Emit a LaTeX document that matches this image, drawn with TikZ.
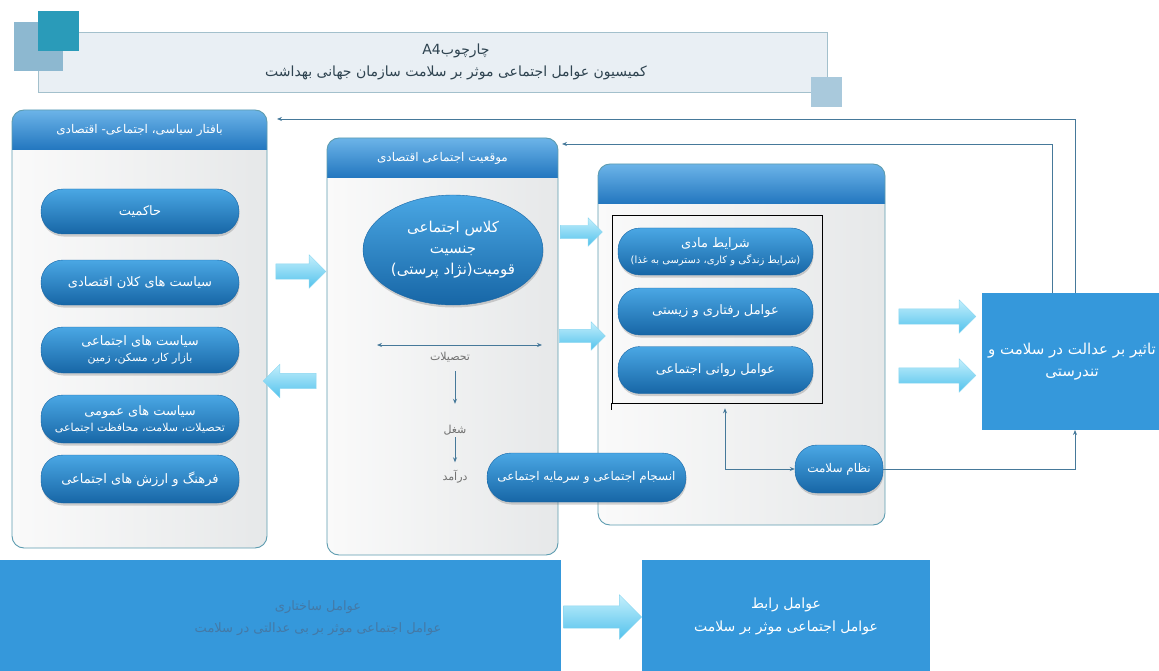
\documentclass[tikz,border=0pt]{standalone}
\usepackage{fontspec}
\newfontfamily\arabicfont[Script=Arabic]{DejaVu Sans}
\TeXXeTstate=1
\usetikzlibrary{shapes.misc,shapes.arrows,shapes.geometric,shadows,arrows.meta}
\newcommand{\fatext}[1]{\beginR#1\endR}
\newcommand{\subline}{\fontsize{11}{13}\selectfont}
\definecolor{panelline}{HTML}{5D9CB0}
\definecolor{bodyleft}{HTML}{FAFAFA}
\definecolor{bodyright}{HTML}{E6E8E9}
\definecolor{headtop}{HTML}{6CB4E8}
\definecolor{headbot}{HTML}{2276BF}
\definecolor{pilltop}{HTML}{4AA7E4}
\definecolor{pillbot}{HTML}{1766A6}
\definecolor{arrowtop}{HTML}{C4EFFC}
\definecolor{arrowbot}{HTML}{52C2EC}
\definecolor{arrowline}{HTML}{8AD6F0}
\definecolor{boxblue}{HTML}{3598DB}
\definecolor{linkcol}{HTML}{46799A}
\definecolor{titlefill}{HTML}{E9EFF4}
\definecolor{titleline}{HTML}{A3C0CC}
\definecolor{sqdark}{HTML}{2A9BB9}
\definecolor{sqlight}{HTML}{8DB8D0}
\definecolor{sqsmall}{HTML}{A9C9DC}
\definecolor{dimtext}{HTML}{4479A6}
\definecolor{graytext}{HTML}{707070}
\definecolor{titletext}{HTML}{2E4350}

\begin{document}
\begin{tikzpicture}[x=1pt,y=-1pt,
    panel_body/.style={draw=none,outer sep=0pt,rounded corners=12pt,left color=bodyleft,right color=bodyright},
    panel_edge/.style={draw=panelline,line width=0.9pt,rounded corners=12pt},
    panel_head/.style={top color=headtop,bottom color=headbot},
    head_text/.style={text=white,font=\arabicfont\fontsize{12}{14}\selectfont},
    pill_node/.style={rectangle,rounded corners=22pt,draw=pillbot,line width=0.4pt,top color=pilltop,bottom color=pillbot,text=white,align=center,inner sep=1pt,drop shadow={opacity=0.35,shadow xshift=0.5pt,shadow yshift=-2.5pt},font=\arabicfont\fontsize{13}{16}\selectfont},
    class_node/.style={ellipse,draw=pillbot,line width=0.4pt,top color=pilltop,bottom color=pillbot,text=white,align=center,inner sep=0pt,drop shadow={opacity=0.35,shadow xshift=0.5pt,shadow yshift=-2.5pt},font=\arabicfont\fontsize{15}{21}\selectfont},
    step_text/.style={text=graytext,inner sep=1pt,font=\arabicfont\fontsize{11}{13}\selectfont},
    frame_box/.style={draw=black,line width=0.6pt,minimum width=210pt,minimum height=188pt},
    block_arrow/.style={single arrow,single arrow head extend=9pt,single arrow head indent=0pt,inner xsep=0pt,inner ysep=7.5pt,top color=arrowtop,bottom color=arrowbot,draw=arrowline,line width=0.4pt},
    blue_box/.style={fill=boxblue,align=center,inner sep=0pt,outer sep=0pt},
    title_box/.style={fill=titlefill,draw=titleline,line width=0.6pt},
    title_text/.style={text=titletext,align=center,font=\arabicfont\fontsize{14}{22}\selectfont},
    link_line/.style={draw=linkcol,line width=0.7pt},
    link_tip/.style={-{Stealth[length=5pt,width=4pt]}},
    both_tips/.style={{Stealth[length=5pt,width=4pt]}-{Stealth[length=5pt,width=4pt]}}]
  \useasboundingbox (0,0) rectangle (1159,671);
\node[title_box,minimum width=789pt,minimum height=60pt] (31) at (432.50,62.00) {};
  \fill[sqlight] (14,22) rectangle (63,71);
  \fill[sqdark] (38,11) rectangle (79,51);
  \fill[sqsmall] (811,77) rectangle (842,107);
\node[title_text] (34) at (456.00,62.00) {\fatext{چارچوب\beginL A4\endL}\\\fatext{کمیسیون عوامل اجتماعی موثر بر سلامت سازمان جهانی بهداشت}};
\node[panel_body,minimum width=255pt,minimum height=438pt] (0) at (139.50,329.00) {};
  \begin{scope}
  \clip[rounded corners=12pt] (0.north west) rectangle (0.south east);
  \shade[panel_head] (0.north west) rectangle ([yshift=-40pt]0.north east);
  \end{scope}
  \draw[panel_edge] (0.north west) rectangle (0.south east);
\node[panel_body,minimum width=231pt,minimum height=417pt] (1) at (442.50,346.50) {};
  \begin{scope}
  \clip[rounded corners=12pt] (1.north west) rectangle (1.south east);
  \shade[panel_head] (1.north west) rectangle ([yshift=-40pt]1.north east);
  \end{scope}
  \draw[panel_edge] (1.north west) rectangle (1.south east);
\node[panel_body,minimum width=287pt,minimum height=361pt] (2) at (741.50,344.50) {};
  \begin{scope}
  \clip[rounded corners=12pt] (2.north west) rectangle (2.south east);
  \shade[panel_head] (2.north west) rectangle ([yshift=-40pt]2.north east);
  \end{scope}
  \draw[panel_edge] (2.north west) rectangle (2.south east);
\node[head_text] (3) at (139.50,130.00) {\fatext{بافتار سیاسی، اجتماعی- اقتصادی}};
\node[head_text] (4) at (442.50,158.00) {\fatext{موقعیت اجتماعی اقتصادی}};
\node[pill_node,minimum width=198pt,minimum height=45pt] (5) at (140.00,211.50) {\fatext{حاکمیت}};
\node[pill_node,minimum width=198pt,minimum height=45pt] (6) at (140.00,282.50) {\fatext{سیاست های کلان اقتصادی}};
\node[pill_node,minimum width=198pt,minimum height=46pt] (7) at (140.00,350.00) {\fatext{سیاست های اجتماعی}\\\subline\fatext{بازار کار، مسکن، زمین}};
\node[pill_node,minimum width=198pt,minimum height=48pt] (8) at (140.00,419.00) {\fatext{سیاست های عمومی}\\\subline\fatext{تحصیلات، سلامت، محافظت اجتماعی}};
\node[pill_node,minimum width=198pt,minimum height=48pt] (9) at (140.00,479.00) {\fatext{فرهنگ و ارزش های اجتماعی}};
\node[class_node,minimum width=180pt,minimum height=110pt] (10) at (453.00,250.00) {\fatext{کلاس اجتماعی}\\\fatext{جنسیت}\\\fatext{قومیت(نژاد پرستی)}};
\coordinate (35) at (377.00,345.00);
\coordinate (36) at (542.00,345.00);
\node[step_text] (11) at (450.00,357.00) {\fatext{تحصیلات}};
\node[step_text] (12) at (455.00,430.00) {\fatext{شغل}};
\node[step_text] (13) at (455.00,477.00) {\fatext{درآمد}};
  \draw[link_line,both_tips] (35) -- (36);
  \draw[link_line,link_tip] ([xshift=5pt,yshift=-8pt]11.south) -- ([yshift=20pt]12.north);
  \draw[link_line,link_tip] ([yshift=-1pt]12.south) -- ([yshift=7pt]13.north);
\node[frame_box] (15) at (717.00,309.00) {};
  \draw[black,line width=0.6pt] (15.south west) -- ([yshift=-7pt]15.south west);
\node[pill_node,minimum width=195pt,minimum height=47pt] (16) at (715.50,251.50) {\fatext{شرایط مادی}\\\fontsize{10}{12}\selectfont\fatext{(شرایط زندگی و کاری، دسترسی به غذا)}};
\node[pill_node,minimum width=195pt,minimum height=47pt] (17) at (715.50,311.50) {\fatext{عوامل رفتاری و زیستی}};
\node[pill_node,minimum width=195pt,minimum height=47pt] (18) at (715.50,370.00) {\fatext{عوامل روانی اجتماعی}};
\node[pill_node,minimum width=199pt,minimum height=49pt,rounded corners=24pt,font=\arabicfont\fontsize{12}{14}\selectfont] (14) at (586.50,477.50) {\fatext{انسجام اجتماعی و سرمایه اجتماعی}};
\node[pill_node,minimum width=88pt,minimum height=48pt,font=\arabicfont\fontsize{12}{14}\selectfont] (20) at (839.00,469.00) {\fatext{نظام سلامت}};
\node[blue_box,minimum width=180pt,minimum height=137pt,text=white,font=\arabicfont\fontsize{15}{22}\selectfont] (19) at (1072.00,361.50) {\fatext{تاثیر بر عدالت در سلامت و}\\\fatext{تندرستی}};
\node[block_arrow,minimum height=50pt] (21) at (297.00,271.50) {};
\node[block_arrow,minimum height=53pt,shape border rotate=180] (22) at (293.50,381.00) {};
\node[block_arrow,minimum height=42pt,inner ysep=6.5pt,single arrow head extend=7.5pt] (23) at (578.00,232.00) {};
\node[block_arrow,minimum height=46pt,inner ysep=6.5pt,single arrow head extend=7.5pt] (24) at (579.00,336.00) {};
\node[block_arrow,minimum height=77pt] (25) at (933.50,316.50) {};
\node[block_arrow,minimum height=77pt] (26) at (933.50,375.50) {};
  \draw[link_line,link_tip] ([xshift=93pt]19.north west) |- ([xshift=10pt,yshift=-9pt]0.north east);
  \draw[link_line,link_tip] ([xshift=70pt]19.north west) |- ([xshift=4pt,yshift=-6pt]1.north east);
  \draw[link_line,link_tip] (20.east) -| ([xshift=93pt]19.south west);
  \draw[link_line,both_tips] ([xshift=8pt,yshift=-5pt]15.south) |- (20.west);
\node[blue_box,minimum width=561pt,minimum height=112pt] (27) at (280.50,616.00) {};
\node[text=dimtext,align=center,font=\arabicfont\fontsize{13}{22}\selectfont] (37) at (318.00,618.00) {\fatext{عوامل ساختاری}\\\fatext{عوامل اجتماعی موثر بر بی عدالتی در سلامت}};
\node[blue_box,minimum width=288pt,minimum height=112pt,text=white,font=\arabicfont\fontsize{14}{23}\selectfont] (28) at (786.00,616.00) {\fatext{عوامل رابط}\\\fatext{عوامل اجتماعی موثر بر سلامت}};
\node[block_arrow,minimum height=78pt,inner ysep=11pt,single arrow head extend=11pt] (29) at (597.00,617.00) {};
\end{tikzpicture}
\end{document}
